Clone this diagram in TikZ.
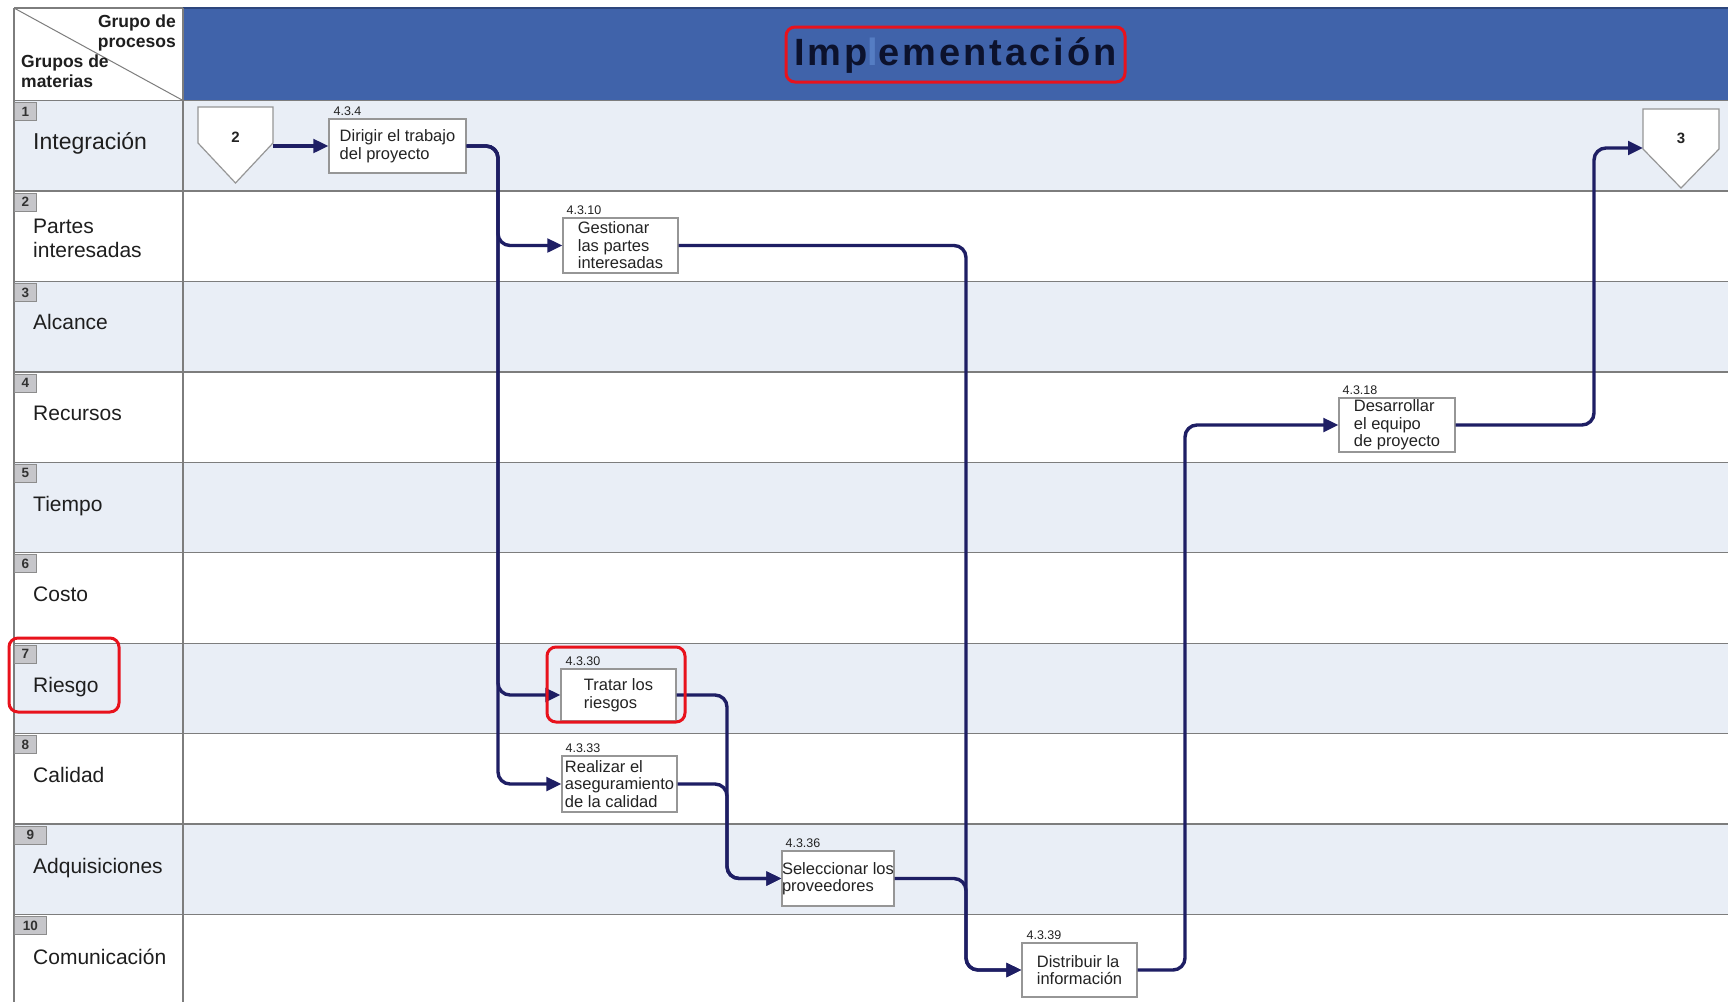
\documentclass[tikz,border=0pt]{standalone}
\usepackage{fontspec}
\setmainfont{Liberation Sans}
\newfontfamily\titlefont[LetterSpace=8]{Liberation Sans}
\usetikzlibrary{arrows.meta,calc}

\definecolor{rowblue}{RGB}{233,238,246}
\definecolor{gridgray}{RGB}{125,125,125}
\definecolor{headblue}{RGB}{64,99,170}
\definecolor{headedge}{RGB}{45,70,125}
\definecolor{navy}{RGB}{30,30,100}
\definecolor{boxedge}{RGB}{150,150,150}
\definecolor{boxtext}{RGB}{35,35,35}
\definecolor{labeltext}{RGB}{30,30,30}
\definecolor{tagfill}{RGB}{198,198,202}
\definecolor{tagedge}{RGB}{140,140,140}
\definecolor{tagtext}{RGB}{50,50,50}
\definecolor{titletext}{RGB}{12,18,45}
\definecolor{titlel}{RGB}{85,125,195}
\definecolor{markred}{RGB}{232,18,28}

\begin{document}
\begin{tikzpicture}[x=1pt,y=-1pt,
  grid/.style={draw=gridgray,line width=1.4pt},
  tagbox/.style={fill=tagfill,draw=tagedge,line width=0.8pt,inner sep=0pt,
    minimum height=18pt,anchor=north west,
    font=\fontsize{13.5}{13.5}\selectfont\bfseries,text=tagtext},
  rowlabel/.style={anchor=base west,inner sep=0pt,
    font=\fontsize{21}{24}\selectfont,text=labeltext},
  pbox/.style={draw=boxedge,fill=white,line width=1.2pt,align=left,inner sep=0pt,
    font=\fontsize{16.5}{17.5}\selectfont,text=boxtext},
  plabel/.style={anchor=base west,inner sep=0pt,
    font=\fontsize{12.5}{12.5}\selectfont,text=boxtext},
  pent/.style={fill=white,draw=boxedge,line width=1.2pt},
  pentnum/.style={inner sep=0pt,font=\fontsize{15}{15}\selectfont\bfseries,text=boxtext},
  cornertext/.style={inner sep=0pt,font=\fontsize{17.5}{20.5}\selectfont\bfseries,text=labeltext},
  flow/.style={draw=navy,line width=3.4pt,rounded corners=12pt,
    -{Triangle[length=15pt,width=13.5pt]}},
  redmark/.style={draw=markred,line width=3pt,rounded corners=9pt,fill=none,inner sep=0pt}
]
\useasboundingbox (0,0) rectangle (1728,1002);
\fill[white] (0,0) rectangle (1728,1002);

% alternating row bands
\foreach \i in {1,3,5,7,9}
  \fill[rowblue] (14,{100.5+90.45*(\i-1)}) rectangle (1728,{100.5+90.45*\i});

% header band
\fill[headblue] (183,8) rectangle (1728,100.5);
\draw[headedge,line width=1.5pt] (183,8) -- (1728,8);

% grid lines
\foreach \i in {0,...,9}
  \draw[grid] (14,{100.5+90.45*\i}) -- (1728,{100.5+90.45*\i});
\draw[grid] (14,8) -- (183,8);
\draw[grid] (14,8) -- (14,1002);
\draw[grid] (183,8) -- (183,1002);
\draw[gridgray,line width=1pt] (14,8) -- (183,100.5);

% corner cell
\node[cornertext,anchor=north east,align=right] (cpro) at (176,14.5) {Grupo de\\procesos};
\node[cornertext,anchor=north west,align=left] (cmat) at (21,54.5) {Grupos de\\materias};

% title
\node[anchor=base,inner sep=0pt,text=titletext] (title) at (955.5,65)
  {\titlefont\fontsize{38}{40}\selectfont\bfseries Imp{\color{titlel}l}ementación};

% row number tags
\node[tagbox,minimum width=22pt] (t1) at (14,102) {1};
\node[tagbox,minimum width=22pt] (t2) at (14,192.5) {2};
\node[tagbox,minimum width=22pt] (t3) at (14,283) {3};
\node[tagbox,minimum width=22pt] (t4) at (14,373.5) {4};
\node[tagbox,minimum width=22pt] (t5) at (14,464) {5};
\node[tagbox,minimum width=22pt] (t6) at (14,554) {6};
\node[tagbox,minimum width=22pt] (t7) at (14,644.5) {7};
\node[tagbox,minimum width=22pt] (t8) at (14,735) {8};
\node[tagbox,minimum width=32pt] (t9) at (14,825.5) {9};
\node[tagbox,minimum width=32pt] (t10) at (14,916) {10};

% row labels
\node[rowlabel,font=\fontsize{23}{26}\selectfont] (r1) at (33,149) {Integración};
\node[rowlabel] (r2a) at (33,233) {Partes};
\node[rowlabel] (r2b) at (33,257) {interesadas};
\node[rowlabel] (r3) at (33,329) {Alcance};
\node[rowlabel] (r4) at (33,420) {Recursos};
\node[rowlabel] (r5) at (33,511) {Tiempo};
\node[rowlabel] (r6) at (33,601) {Costo};
\node[rowlabel] (r7) at (33,692) {Riesgo};
\node[rowlabel] (r8) at (33,782) {Calidad};
\node[rowlabel] (r9) at (33,873) {Adquisiciones};
\node[rowlabel] (r10) at (33,964) {Comunicación};

% off-page connectors
\filldraw[pent] (198,107) -- (273,107) -- (273,143) -- (235.5,183) -- (198,143) -- cycle;
\node[pentnum] (p2) at (235.5,137) {2};
\filldraw[pent] (1643,109) -- (1719,109) -- (1719,149) -- (1681,188) -- (1643,149) -- cycle;
\node[pentnum] (p3) at (1681,138) {3};
\coordinate (out2) at (273,146);
\coordinate (in3) at (1643,148);

% processes
\node[pbox,minimum width=137pt,minimum height=54pt] (dirigir) at (397.5,146) {Dirigir el trabajo\\del proyecto};
\node[pbox,minimum width=115pt,minimum height=55pt] (gestionar) at (620.5,245.5) {Gestionar\\las partes\\interesadas};
\node[pbox,minimum width=115pt,minimum height=52pt] (tratar) at (618.5,695) {Tratar los\\riesgos};
\node[pbox,minimum width=115pt,minimum height=56pt] (realizar) at (619.5,784) {Realizar el\\aseguramiento\\de la calidad};
\node[pbox,minimum width=112pt,minimum height=55pt] (seleccionar) at (838,878.5) {Seleccionar los\\proveedores};
\node[pbox,minimum width=115pt,minimum height=54pt] (distribuir) at (1079.5,970) {Distribuir la\\información};
\node[pbox,minimum width=116pt,minimum height=54pt] (desarrollar) at (1397,425) {Desarrollar\\el equipo\\de proyecto};

% process numbers
\node[plabel] (n434) at ($(dirigir.north west)+(5,-3)$) {4.3.4};
\node[plabel] (n4310) at ($(gestionar.north west)+(4,-3)$) {4.3.10};
\node[plabel] (n4330) at ($(tratar.north west)+(5,-3)$) {4.3.30};
\node[plabel] (n4333) at ($(realizar.north west)+(4,-3)$) {4.3.33};
\node[plabel] (n4336) at ($(seleccionar.north west)+(4,-3)$) {4.3.36};
\node[plabel] (n4339) at ($(distribuir.north west)+(5,-3)$) {4.3.39};
\node[plabel] (n4318) at ($(desarrollar.north west)+(4,-3)$) {4.3.18};

% vertical runs of the connectors
\coordinate (busA) at (498,0);
\coordinate (busB) at (727,0);
\coordinate (busC) at (966,0);
\coordinate (busD) at (1185,0);
\coordinate (busE) at (1594,0);

% connectors
\draw[flow] (out2) -- (dirigir.west);
\draw[flow] (dirigir.east) -- (busA |- dirigir.east) -- (busA |- gestionar.west) -- (gestionar.west);
\draw[flow] (dirigir.east) -- (busA |- dirigir.east) -- (busA |- tratar.west) -- (tratar.west);
\draw[flow] (dirigir.east) -- (busA |- dirigir.east) -- (busA |- realizar.west) -- (realizar.west);
\draw[flow] (gestionar.east) -- (busC |- gestionar.east) -- (busC |- distribuir.west) -- (distribuir.west);
\draw[flow] (tratar.east) -- (busB |- tratar.east) -- (busB |- seleccionar.west) -- (seleccionar.west);
\draw[flow] (realizar.east) -- (busB |- realizar.east) -- (busB |- seleccionar.west) -- (seleccionar.west);
\draw[flow] (seleccionar.east) -- (busC |- seleccionar.east) -- (busC |- distribuir.west) -- (distribuir.west);
\draw[flow] (distribuir.east) -- (busD |- distribuir.east) -- (busD |- desarrollar.west) -- (desarrollar.west);
\draw[flow] (desarrollar.east) -- (busE |- desarrollar.east) -- (busE |- in3) -- (in3);

% highlights
\node[redmark,minimum width=339pt,minimum height=55pt] (hltitle) at (955.5,54.5) {};
\node[redmark,minimum width=110pt,minimum height=74pt] (hlrow) at (64,675) {};
\node[redmark,minimum width=138pt,minimum height=75pt] (hlbox) at (616,684.5) {};
\end{tikzpicture}
\end{document}
